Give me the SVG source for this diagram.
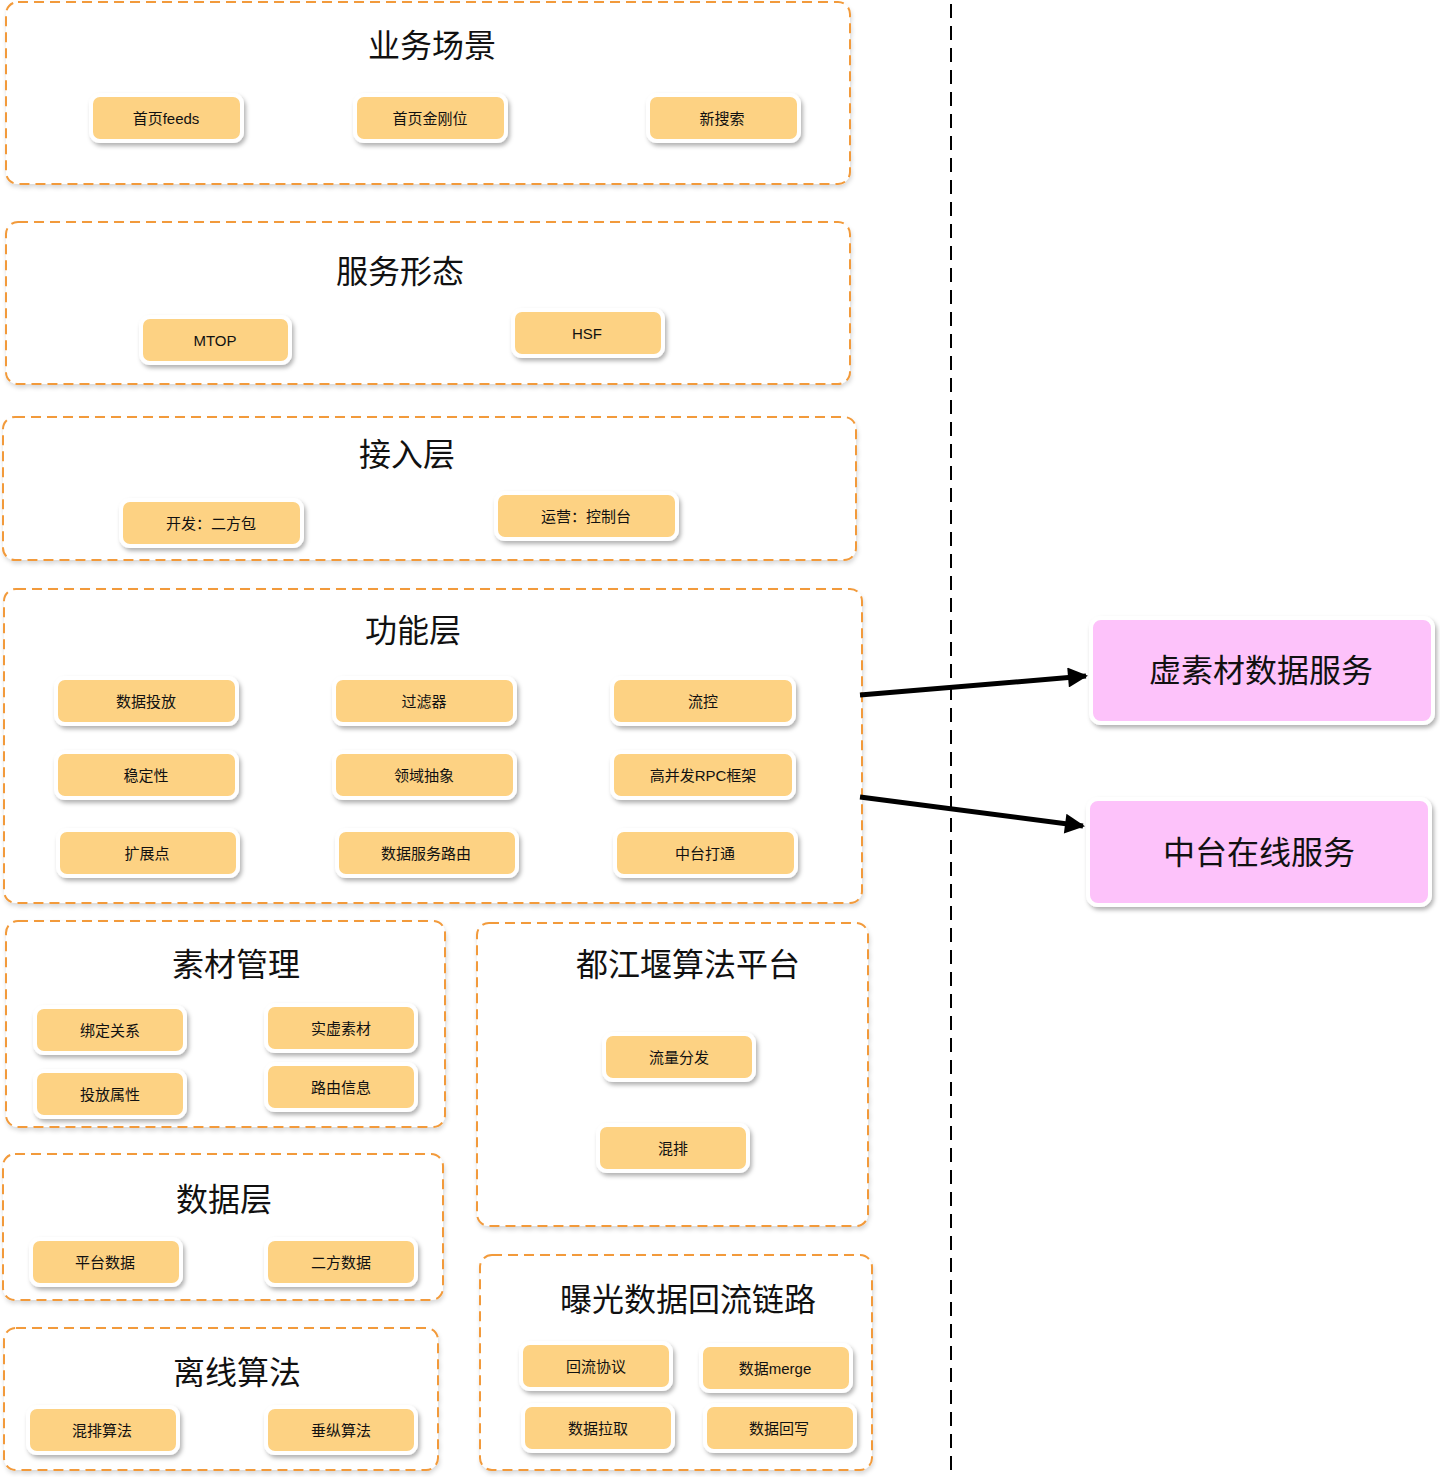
<svg xmlns="http://www.w3.org/2000/svg" width="1440" height="1477" viewBox="0 0 1440 1477">
<defs>
<filter id="sh" x="-10%" y="-10%" width="130%" height="140%">
<feDropShadow dx="2" dy="3" stdDeviation="2" flood-color="#000" flood-opacity="0.3"/>
</filter>
<filter id="shc" x="-5%" y="-5%" width="110%" height="115%">
<feDropShadow dx="1" dy="3" stdDeviation="2" flood-color="#000" flood-opacity="0.15"/>
</filter>
<marker id="ah" viewBox="0 0 10 10" refX="9" refY="5" markerWidth="5" markerHeight="4" orient="auto" markerUnits="strokeWidth">
<path d="M0,0 L10,5 L0,10 z" fill="#000"/>
</marker>
</defs>
<style>
.c{fill:#fff;stroke:#F29A3A;stroke-width:2;stroke-dasharray:10,6;filter:url(#shc)}
.ct{font-family:"Liberation Sans","Noto Sans CJK SC",sans-serif;font-size:32px;fill:#111;text-anchor:middle;dominant-baseline:central}
.n{fill:#FDD283;stroke:#fff;stroke-width:4;filter:url(#sh)}
.nt{font-family:"Liberation Sans","Noto Sans CJK SC",sans-serif;font-size:15px;fill:#111;text-anchor:middle;dominant-baseline:central}
.p{fill:#FDC2FA;stroke:#fff;stroke-width:4;filter:url(#sh)}
.pt{font-family:"Liberation Sans","Noto Sans CJK SC",sans-serif;font-size:32px;fill:#111;text-anchor:middle;dominant-baseline:central}
.e{stroke:#000;stroke-width:5;fill:none;marker-end:url(#ah)}
</style>
<rect width="1440" height="1477" fill="#fff"/>
<line x1="951" y1="4" x2="951" y2="1477" stroke="#000" stroke-width="2" stroke-dasharray="14,8"/>

<g id="c-yewu"><rect class="c" x="6" y="2" width="844" height="182" rx="12"/><text class="ct" x="432" y="46">业务场景</text></g>
<g id="c-fuwu"><rect class="c" x="6" y="222" width="844" height="162" rx="12"/><text class="ct" x="400" y="272">服务形态</text></g>
<g id="c-jieru"><rect class="c" x="3" y="417" width="853" height="143" rx="12"/><text class="ct" x="407" y="455">接入层</text></g>
<g id="c-gongneng"><rect class="c" x="4" y="589" width="858" height="314" rx="12"/><text class="ct" x="413" y="631">功能层</text></g>
<g id="c-sucai"><rect class="c" x="6" y="921" width="439" height="206" rx="12"/><text class="ct" x="236" y="965">素材管理</text></g>
<g id="c-djy"><rect class="c" x="477" y="923" width="391" height="303" rx="12"/><text class="ct" x="688" y="965">都江堰算法平台</text></g>
<g id="c-shuju"><rect class="c" x="3" y="1154" width="440" height="146" rx="12"/><text class="ct" x="224" y="1200">数据层</text></g>
<g id="c-baoguang"><rect class="c" x="480" y="1255" width="392" height="215" rx="12"/><text class="ct" x="688" y="1300">曝光数据回流链路</text></g>
<g id="c-lixian"><rect class="c" x="4" y="1328" width="434" height="142" rx="12"/><text class="ct" x="237" y="1373">离线算法</text></g>

<g id="n1"><rect class="n" x="91" y="95" width="151" height="46" rx="9"/><text class="nt" x="166" y="118">首页feeds</text></g>
<g id="n2"><rect class="n" x="355" y="95" width="151" height="46" rx="9"/><text class="nt" x="430" y="118">首页金刚位</text></g>
<g id="n3"><rect class="n" x="648" y="95" width="151" height="46" rx="9"/><text class="nt" x="722" y="118">新搜索</text></g>
<g id="n4"><rect class="n" x="141" y="317" width="149" height="46" rx="9"/><text class="nt" x="215" y="340">MTOP</text></g>
<g id="n5"><rect class="n" x="513" y="310" width="150" height="46" rx="9"/><text class="nt" x="587" y="333">HSF</text></g>
<g id="n6"><rect class="n" x="121" y="500" width="181" height="46" rx="9"/><text class="nt" x="211" y="523">开发：二方包</text></g>
<g id="n7"><rect class="n" x="496" y="493" width="181" height="46" rx="9"/><text class="nt" x="586" y="516">运营：控制台</text></g>
<g id="n8"><rect class="n" x="56" y="678" width="181" height="46" rx="9"/><text class="nt" x="146" y="701">数据投放</text></g>
<g id="n9"><rect class="n" x="334" y="678" width="181" height="46" rx="9"/><text class="nt" x="424" y="701">过滤器</text></g>
<g id="n10"><rect class="n" x="612" y="678" width="182" height="46" rx="9"/><text class="nt" x="703" y="701">流控</text></g>
<g id="n11"><rect class="n" x="56" y="752" width="181" height="46" rx="9"/><text class="nt" x="146" y="775">稳定性</text></g>
<g id="n12"><rect class="n" x="334" y="752" width="181" height="46" rx="9"/><text class="nt" x="424" y="775">领域抽象</text></g>
<g id="n13"><rect class="n" x="612" y="752" width="182" height="46" rx="9"/><text class="nt" x="703" y="775">高并发RPC框架</text></g>
<g id="n14"><rect class="n" x="58" y="830" width="180" height="46" rx="9"/><text class="nt" x="147" y="853">扩展点</text></g>
<g id="n15"><rect class="n" x="337" y="830" width="180" height="46" rx="9"/><text class="nt" x="426" y="853">数据服务路由</text></g>
<g id="n16"><rect class="n" x="615" y="830" width="181" height="46" rx="9"/><text class="nt" x="705" y="853">中台打通</text></g>
<g id="n17"><rect class="n" x="35" y="1007" width="150" height="46" rx="9"/><text class="nt" x="110" y="1030">绑定关系</text></g>
<g id="n18"><rect class="n" x="266" y="1005" width="150" height="46" rx="9"/><text class="nt" x="341" y="1028">实虚素材</text></g>
<g id="n19"><rect class="n" x="35" y="1071" width="150" height="46" rx="9"/><text class="nt" x="110" y="1094">投放属性</text></g>
<g id="n20"><rect class="n" x="266" y="1064" width="150" height="46" rx="9"/><text class="nt" x="341" y="1087">路由信息</text></g>
<g id="n21"><rect class="n" x="604" y="1034" width="150" height="46" rx="9"/><text class="nt" x="679" y="1057">流量分发</text></g>
<g id="n22"><rect class="n" x="598" y="1125" width="150" height="46" rx="9"/><text class="nt" x="673" y="1148">混排</text></g>
<g id="n23"><rect class="n" x="31" y="1239" width="150" height="46" rx="9"/><text class="nt" x="105" y="1262">平台数据</text></g>
<g id="n24"><rect class="n" x="266" y="1239" width="150" height="46" rx="9"/><text class="nt" x="341" y="1262">二方数据</text></g>
<g id="n25"><rect class="n" x="521" y="1343" width="150" height="46" rx="9"/><text class="nt" x="596" y="1366">回流协议</text></g>
<g id="n26"><rect class="n" x="701" y="1345" width="150" height="46" rx="9"/><text class="nt" x="775" y="1368">数据merge</text></g>
<g id="n27"><rect class="n" x="523" y="1405" width="150" height="46" rx="9"/><text class="nt" x="598" y="1428">数据拉取</text></g>
<g id="n28"><rect class="n" x="705" y="1405" width="150" height="46" rx="9"/><text class="nt" x="779" y="1428">数据回写</text></g>
<g id="n29"><rect class="n" x="28" y="1407" width="150" height="46" rx="9"/><text class="nt" x="102" y="1430">混排算法</text></g>
<g id="n30"><rect class="n" x="266" y="1407" width="150" height="46" rx="9"/><text class="nt" x="341" y="1430">垂纵算法</text></g>

<g id="p1"><rect class="p" x="1091" y="618" width="342" height="105" rx="10"/><text class="pt" x="1261" y="671">虚素材数据服务</text></g>
<g id="p2"><rect class="p" x="1088" y="799" width="342" height="106" rx="10"/><text class="pt" x="1259" y="853">中台在线服务</text></g>

<g id="connectors">
<line class="e" x1="860" y1="695" x2="1086" y2="676"/>
<line class="e" x1="860" y1="797" x2="1083" y2="826"/>
</g>
</svg>
